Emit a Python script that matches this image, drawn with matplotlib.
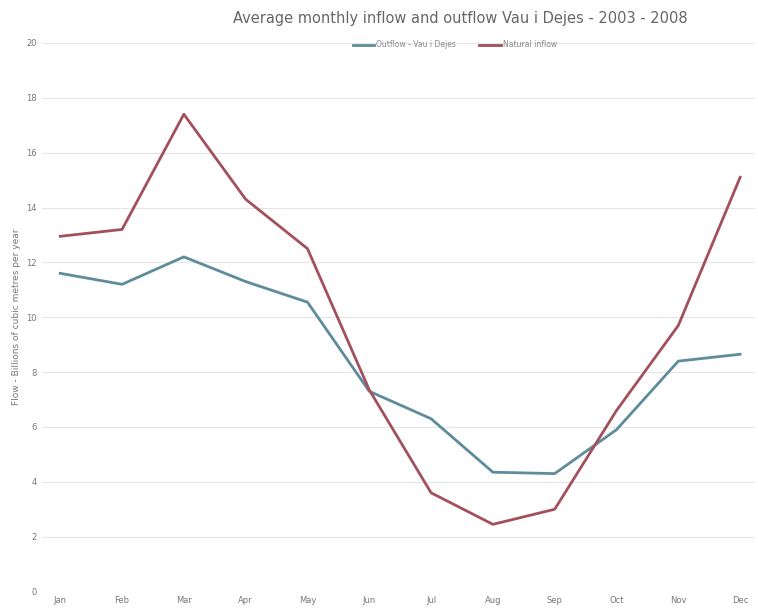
import numpy as np
import matplotlib.pyplot as plt

months = ['Jan', 'Feb', 'Mar', 'Apr', 'May', 'Jun', 'Jul', 'Aug', 'Sep', 'Oct', 'Nov', 'Dec']
outflow = [11.6, 11.2, 12.2, 11.3, 10.55, 7.3, 6.3, 4.35, 4.3, 5.9, 8.4, 8.65]
inflow = [12.95, 13.2, 17.4, 14.3, 12.5, 7.35, 3.6, 2.45, 3.0, 6.6, 9.7, 15.1]

fig = plt.figure(figsize=(7.58, 6.13), dpi=100)
ax = fig.add_axes([0.055, 0.035, 0.941, 0.895])

x = np.arange(len(months))
ax.plot(x, outflow, color='#5e8c9c', lw=2.0, label='Outflow - Vau i Dejes')
ax.plot(x, inflow, color='#a3505c', lw=2.0, label='Natural inflow')

ax.set_xlim(-0.3, 11.24)
ax.set_ylim(0, 20)
ax.set_yticks(np.arange(0, 21, 2))
ax.set_xticks(x)
ax.set_xticklabels(months)
ax.tick_params(length=0, labelsize=6, colors='#777777')
ax.grid(axis='y', color='#e6e6e6', lw=0.8)
ax.set_axisbelow(True)
for s in ax.spines.values():
    s.set_visible(False)

ax.set_ylabel('Flow - Billions of cubic metres per year', fontsize=6.5, color='#777777')
fig.text(0.607, 0.962, 'Average monthly inflow and outflow Vau i Dejes - 2003 - 2008',
         ha='center', fontsize=10.5, color='#666666')
fig.legend(loc='center', bbox_to_anchor=(0.6, 0.927), ncol=2, frameon=False,
           fontsize=5.5, labelcolor='#888888', handlelength=2.8, columnspacing=3.0,
           handletextpad=0.3)

fig.savefig('out.png', dpi=100)
